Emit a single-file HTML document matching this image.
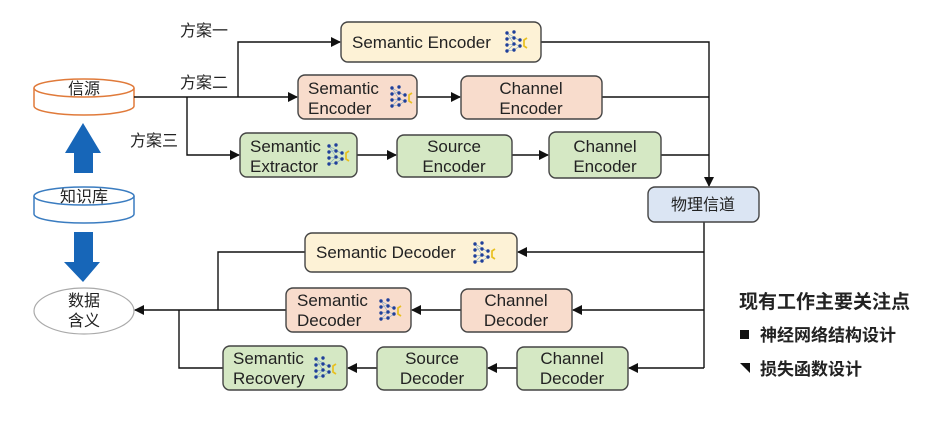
<!DOCTYPE html>
<html><head><meta charset="utf-8"><style>
html,body{margin:0;padding:0;background:#fff;}
svg{display:block;}
text{font-family:"Liberation Sans","Noto Sans CJK SC",sans-serif;fill:#222;}
</style></head><body>
<svg width="938" height="431" viewBox="0 0 938 431" xmlns="http://www.w3.org/2000/svg">
<defs>
<marker id="a" markerWidth="10" markerHeight="10" refX="9" refY="5" orient="auto" markerUnits="userSpaceOnUse">
<path d="M0,0 L10,5 L0,10 Z" fill="#111"/></marker>
<g id="nn">
<g stroke="#7aa4c8" stroke-width="0.6">
<path d="M0,2 L7,6 M0,8 L7,6 M0,14 L7,13 M0,20 L7,19 M7,6 L13,10 M7,13 L13,15 M7,19 L13,15 M0,2 L7,13 M0,20 L7,13"/></g>
<g fill="#1f3f9a">
<circle cx="0" cy="2" r="1.7"/><circle cx="0" cy="8" r="1.7"/><circle cx="0" cy="14" r="1.7"/><circle cx="0" cy="20" r="1.7"/>
<circle cx="7" cy="1" r="1.7"/><circle cx="7" cy="7" r="1.7"/><circle cx="7" cy="13" r="1.7"/><circle cx="7" cy="19" r="1.7"/>
<circle cx="13" cy="9" r="1.7"/><circle cx="13" cy="15" r="1.7"/></g>
<path d="M20,7 L17,9 L17,15 L20,17" stroke="#e8c020" stroke-width="1.7" fill="none"/>
</g>
</defs>

<g fill="#fff" stroke="#e07a3a" stroke-width="1.5">
<path d="M34,88 L34,106 A50,9 0 0 0 134,106 L134,88"/>
<ellipse cx="84" cy="88" rx="50" ry="9"/>
</g>
<text x="84" y="94" font-size="16" text-anchor="middle">信源</text>
<g fill="#fff" stroke="#3a7cc0" stroke-width="1.5">
<path d="M34,196 L34,214 A50,9 0 0 0 134,214 L134,196"/>
<ellipse cx="84" cy="196" rx="50" ry="9"/>
</g>
<text x="84" y="202" font-size="16" text-anchor="middle">知识库</text>
<ellipse cx="84" cy="311" rx="50" ry="23" fill="#fff" stroke="#aaa" stroke-width="1.2"/>
<text x="84" y="306" font-size="16" text-anchor="middle">数据</text>
<text x="84" y="326" font-size="16" text-anchor="middle">含义</text>

<path d="M83,123 L101,153 L93,153 L93,173 L74,173 L74,153 L65,153 Z" fill="#1766b8"/>
<path d="M74,232 L93,232 L93,262 L100,262 L83,282 L64,262 L74,262 Z" fill="#1766b8"/>

<text x="180" y="36" font-size="16">方案一</text>
<text x="180" y="88" font-size="16">方案二</text>
<text x="130" y="146" font-size="16">方案三</text>

<g stroke="#111" stroke-width="1.4" fill="none">
<path d="M134,97 L297,97" marker-end="url(#a)"/>
<path d="M238,97 L238,42 L340,42" marker-end="url(#a)"/>
<path d="M187,97 L187,155 L239,155" marker-end="url(#a)"/>
<path d="M417,97 L460,97" marker-end="url(#a)"/>
<path d="M357,155 L396,155" marker-end="url(#a)"/>
<path d="M512,155 L548,155" marker-end="url(#a)"/>
<path d="M541,42 L709,42 L709,186" marker-end="url(#a)"/>
<path d="M602,97 L709,97"/>
<path d="M661,155 L709,155"/>
<path d="M704,222 L704,368"/>
<path d="M704,252 L518,252" marker-end="url(#a)"/>
<path d="M704,310 L573,310" marker-end="url(#a)"/>
<path d="M704,368 L629,368" marker-end="url(#a)"/>
<path d="M461,310 L412,310" marker-end="url(#a)"/>
<path d="M517,368 L488,368" marker-end="url(#a)"/>
<path d="M377,368 L348,368" marker-end="url(#a)"/>
<path d="M286,310 L135,310" marker-end="url(#a)"/>
<path d="M305,252 L218,252 L218,310"/>
<path d="M223,368 L179,368 L179,310"/>
</g>

<g stroke="#444" stroke-width="1.4">
<rect x="341" y="22" width="200" height="40" rx="7" fill="#fdf2d6"/>
<rect x="298" y="75" width="119" height="44" rx="7" fill="#f8dccc"/>
<rect x="461" y="76" width="141" height="43" rx="7" fill="#f8dccc"/>
<rect x="240" y="133" width="117" height="44" rx="7" fill="#d5e8c4"/>
<rect x="397" y="135" width="115" height="42" rx="7" fill="#d5e8c4"/>
<rect x="549" y="132" width="112" height="46" rx="7" fill="#d5e8c4"/>
<rect x="648" y="187" width="111" height="35" rx="7" fill="#dbe5f3"/>
<rect x="305" y="233" width="212" height="39" rx="7" fill="#fdf2d6"/>
<rect x="286" y="288" width="125" height="44" rx="7" fill="#f8dccc"/>
<rect x="461" y="289" width="111" height="43" rx="7" fill="#f8dccc"/>
<rect x="223" y="346" width="124" height="44" rx="7" fill="#d5e8c4"/>
<rect x="377" y="347" width="110" height="43" rx="7" fill="#d5e8c4"/>
<rect x="517" y="347" width="111" height="43" rx="7" fill="#d5e8c4"/>
</g>

<g font-size="17">
<text x="352" y="48">Semantic Encoder</text>
<text x="308" y="94">Semantic</text><text x="308" y="114">Encoder</text>
<text x="531" y="94" text-anchor="middle">Channel</text><text x="531" y="114" text-anchor="middle">Encoder</text>
<text x="250" y="152">Semantic</text><text x="250" y="172">Extractor</text>
<text x="454" y="152" text-anchor="middle">Source</text><text x="454" y="172" text-anchor="middle">Encoder</text>
<text x="605" y="152" text-anchor="middle">Channel</text><text x="605" y="172" text-anchor="middle">Encoder</text>
<text x="703" y="210" text-anchor="middle" font-size="16">物理信道</text>
<text x="316" y="258">Semantic Decoder</text>
<text x="297" y="306">Semantic</text><text x="297" y="326">Decoder</text>
<text x="516" y="306" text-anchor="middle">Channel</text><text x="516" y="326" text-anchor="middle">Decoder</text>
<text x="233" y="364">Semantic</text><text x="233" y="384">Recovery</text>
<text x="432" y="364" text-anchor="middle">Source</text><text x="432" y="384" text-anchor="middle">Decoder</text>
<text x="572" y="364" text-anchor="middle">Channel</text><text x="572" y="384" text-anchor="middle">Decoder</text>
</g>

<use href="#nn" x="507" y="31"/>
<use href="#nn" x="392" y="86"/>
<use href="#nn" x="329" y="144"/>
<use href="#nn" x="475" y="242"/>
<use href="#nn" x="381" y="299"/>
<use href="#nn" x="316" y="357"/>

<text x="739" y="308" font-size="19" font-weight="bold">现有工作主要关注点</text>
<rect x="740" y="330" width="9" height="9" fill="#111"/>
<text x="760" y="341" font-size="17" font-weight="bold">神经网络结构设计</text>
<path d="M740,363 L750,363 L750,373 Z" fill="#111"/>
<text x="760" y="375" font-size="17" font-weight="bold">损失函数设计</text>
</svg>
</body></html>
